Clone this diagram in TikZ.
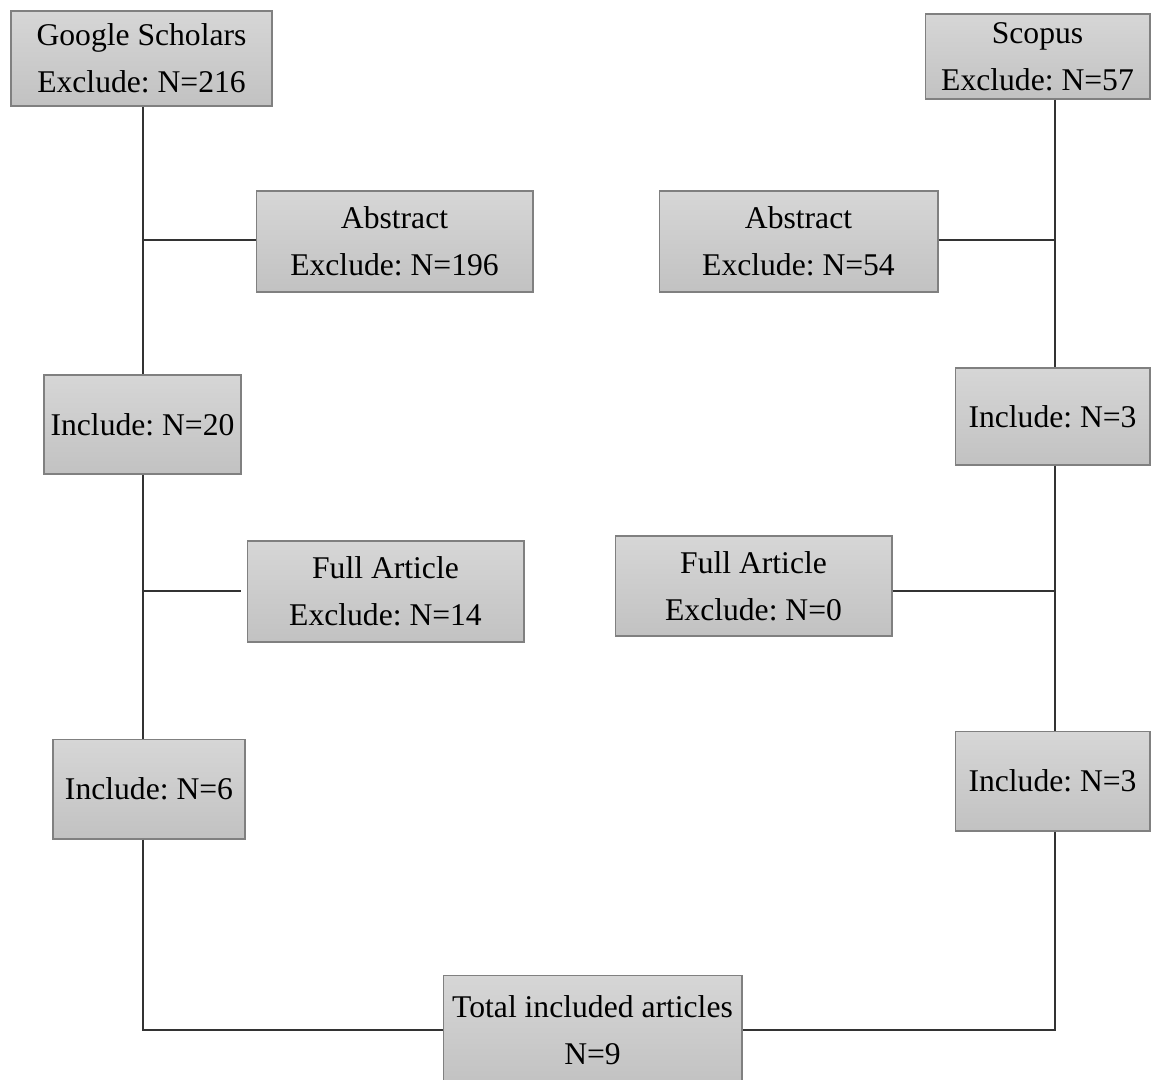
\documentclass[tikz,border=0pt]{standalone}
\usepackage{fontspec}
\setmainfont{Liberation Serif}
\frenchspacing
\usepackage{tikz}
\usetikzlibrary{positioning}
\usetikzlibrary{calc}
\definecolor{boxtop}{gray}{0.84}
\definecolor{boxbot}{gray}{0.76}
\definecolor{boxline}{gray}{0.5}
\definecolor{wire}{gray}{0.2}
\tikzset{
bx/.style={
  rectangle,
  inner sep=0pt,
  align=center,
  draw=boxline,
  line width=0.6pt,
  top color=boxtop,
  bottom color=boxbot,
  font=\fontsize{18}{26.5}\selectfont
  }
}

\begin{document}
\begin{tikzpicture}[x=0.02cm,y=-0.02cm,line width=0.8pt]
        \useasboundingbox (0,0) rectangle (1151,1079);
        % left column
        \node[bx,minimum width=5.22cm,minimum height=1.9cm] at (141.5,58.5) (gs) {Google Scholars\\Exclude: N=216};
        \node[bx,minimum width=5.54cm,minimum height=2.02cm] at (394.5,241.5) (abs1) {Abstract\\Exclude: N=196};
        \node[bx,minimum width=3.94cm,minimum height=1.98cm] at (142.5,424.5) (inc20) {Include: N=20};
        \node[bx,minimum width=5.54cm,minimum height=2.02cm] at (385.5,591.5) (full1) {Full Article\\Exclude: N=14};
        \node[bx,minimum width=3.84cm,minimum height=2cm] at (149,789) (inc6) {Include: N=6};
        % right column
        \node[bx,minimum width=4.5cm,minimum height=1.7cm] at (1037.5,56.5) (scop) {Scopus\\Exclude: N=57};
        \node[bx,minimum width=5.58cm,minimum height=2.02cm] at (798.5,241.5) (abs2) {Abstract\\Exclude: N=54};
        \node[bx,minimum width=3.9cm,minimum height=1.94cm] at (1052.5,416.5) (inc3a) {Include: N=3};
        \node[bx,minimum width=5.54cm,minimum height=2cm] at (753.5,586) (full2) {Full Article\\Exclude: N=0};
        \node[bx,minimum width=3.9cm,minimum height=2cm] at (1052.5,781) (inc3b) {Include: N=3};
        % result
        \node[bx,minimum width=5.98cm,minimum height=2.2cm] at (592.5,1030) (tot) {Total included articles\\N=9};
        % junctions on the two trunks
        \coordinate (ja) at (143,240);
        \coordinate (jb) at (1055,240);
        \coordinate (jc) at (143,591);
        \coordinate (jd) at (1055,591);
        \begin{scope}[draw=wire]
        \draw (gs.south -| ja) -- (inc20.north -| ja);
        \draw (ja) -- (ja -| abs1.west);
        \draw (inc20.south -| jc) -- (inc6.north -| jc);
        \draw[shorten >=0.12cm] (jc) -- (jc -| full1.west);
        \draw (inc6.south -| jc) |- (tot.west);
        \draw (scop.south -| jb) -- (inc3a.north -| jb);
        \draw (jb -| abs2.east) -- (jb);
        \draw (inc3a.south -| jd) -- (inc3b.north -| jd);
        \draw (jd -| full2.east) -- (jd);
        \draw (inc3b.south -| jd) |- (tot.east);
        \end{scope}
    \end{tikzpicture}
\end{document}
